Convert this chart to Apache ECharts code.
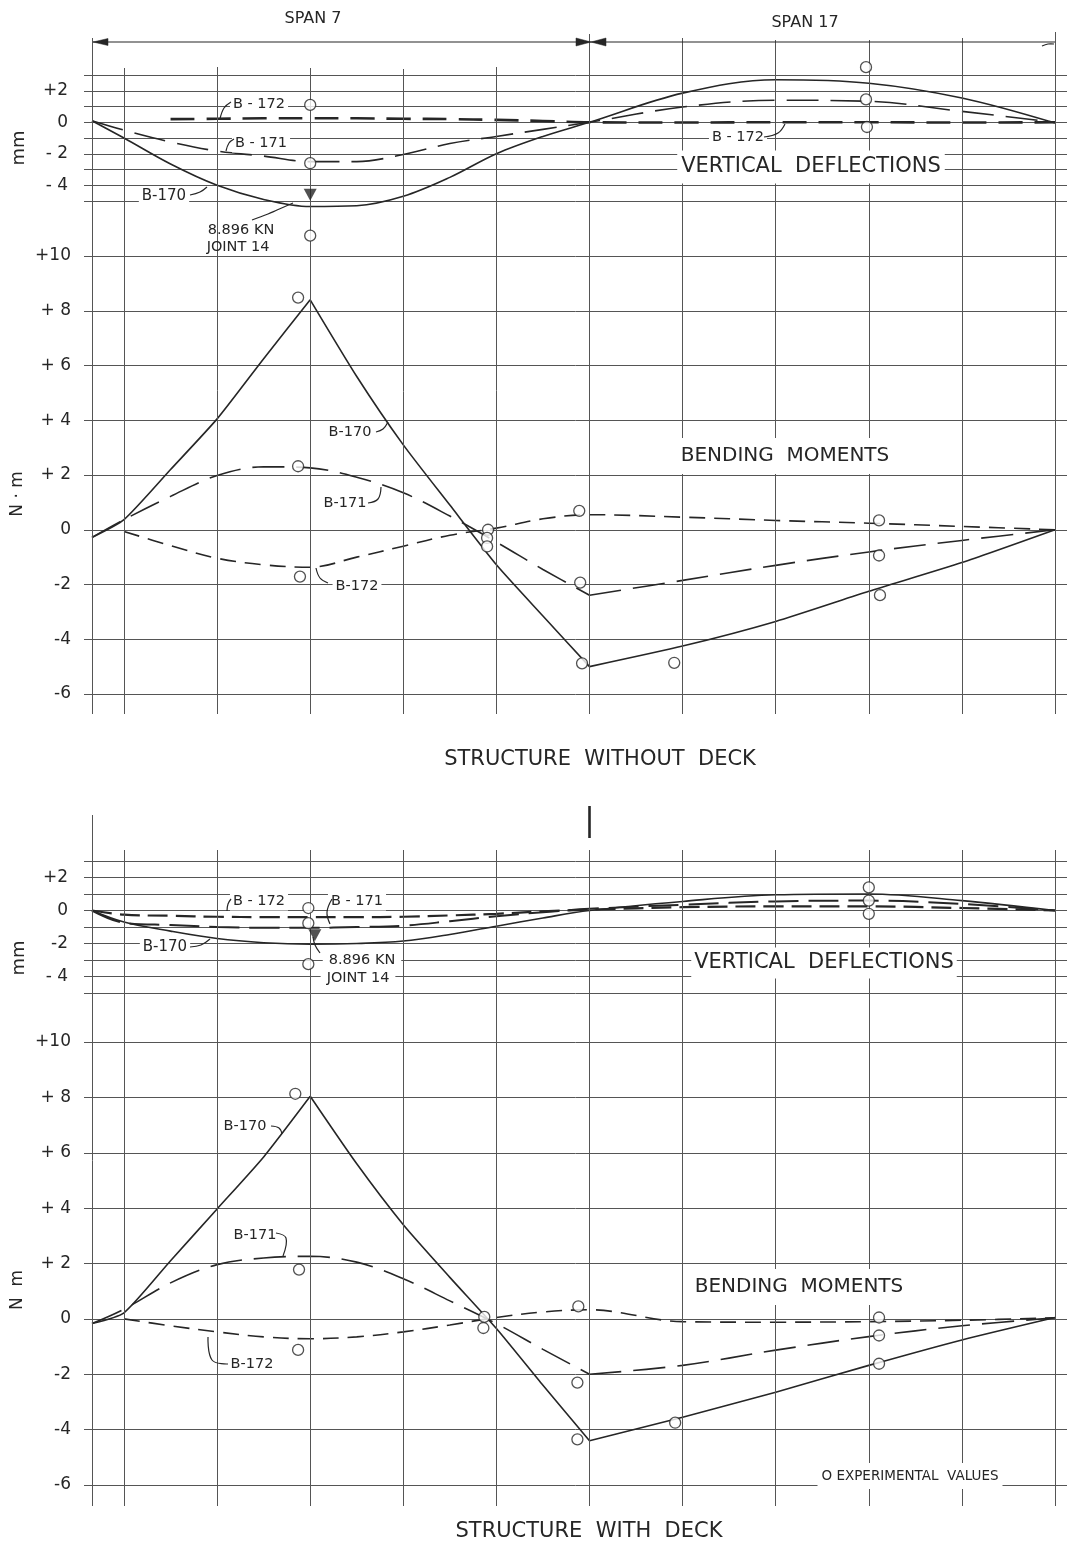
<!DOCTYPE html>
<html><head><meta charset="utf-8">
<script src="https://cdn.jsdelivr.net/npm/echarts@6/dist/echarts.min.js"></script>
<style>html,body{margin:0;padding:0;background:#fff}#c{width:1073px;height:1548px}</style>
</head><body><div id="c"></div>
<script>
// ---------------- DATA ----------------
// x stations in joint spacings (0 = first interior joint, 5 = middle support, 10 = right end)
const stations = [-0.344, 0, 0.5, 1, 1.5, 2, 2.5, 3, 3.5, 4, 4.5, 5, 6, 7, 8, 9, 10];
const jointLines = [-0.344, 0, 1, 2, 3, 4, 5, 6, 7, 8, 9, 10];

// Structure without deck – vertical deflections (mm)
const topDefB170 = [0.1, -1.0, -2.65, -4.0, -4.9, -5.35, -5.3, -4.7, -3.5, -2.0, -0.9, 0, 1.85, 2.7, 2.48, 1.54, -0.05];
const topDefB171 = [0.1, -0.5, -1.25, -1.83, -2.15, -2.5, -2.5, -2.05, -1.35, -0.9, -0.45, 0, 0.97, 1.4, 1.33, 0.69, 0];
const topDefB172 = [null, null, 0.2, 0.22, 0.25, 0.25, 0.25, 0.22, 0.2, 0.15, 0.08, 0, -0.02, 0, 0, -0.02, 0];
const topDefExp = [[2, 1.1], [2, -2.6], [2, -7.2], [7.97, 3.5], [7.97, 1.45], [7.98, -0.3]];
const topLoad = [[2, -4.6]];
// Structure without deck – bending moments (N·m)
const topMomB170 = [-0.28, 0.37, 2.2, 4.05, 6.25, 8.4, 5.6, 3.1, 0.9, -1.28, -3.15, -5.0, -4.25, -3.35, -2.25, -1.2, 0];
const topMomB171 = [-0.28, 0.37, 1.22, 1.98, 2.3, 2.26, 1.92, 1.35, 0.5, -0.45, -1.45, -2.39, -1.85, -1.3, -0.81, -0.39, 0];
const topMomB172 = [null, -0.06, -0.58, -1.04, -1.28, -1.37, -1.0, -0.6, -0.2, 0.06, 0.4, 0.55, 0.46, 0.34, 0.24, 0.12, 0];
const topMomExp = [[1.87, 8.48], [1.87, 2.32], [1.89, -1.71], [3.91, 0.0], [3.9, -0.3], [3.9, -0.61],
  [4.89, 0.69], [4.9, -1.93], [4.92, -4.88], [5.91, -4.86], [8.11, 0.34], [8.11, -0.94], [8.12, -2.39]];

// Structure with deck – vertical deflections (mm)
const botDefB170 = [0, -0.7, -1.25, -1.7, -1.95, -2.04, -2.0, -1.85, -1.45, -0.95, -0.45, 0, 0.55, 0.95, 1.0, 0.6, 0];
const botDefB171 = [0, -0.75, -0.88, -1.0, -1.05, -1.05, -1.0, -0.92, -0.65, -0.35, -0.1, 0.1, 0.35, 0.55, 0.6, 0.4, 0];
const botDefB172 = [0, -0.25, -0.32, -0.38, -0.4, -0.4, -0.4, -0.38, -0.3, -0.2, -0.05, 0.05, 0.2, 0.25, 0.25, 0.15, 0];
const botDefExp = [[1.98, 0.15], [1.98, -0.77], [1.98, -3.25], [8, 1.4], [8, 0.6], [8, -0.2]];
const botLoad = [[2.05, -1.5]];
// Structure with deck – bending moments (N·m)
const botMomB170 = [-0.17, 0.22, 2.1, 3.97, 5.85, 8.04, 5.6, 3.4, 1.5, -0.35, -2.4, -4.4, -3.55, -2.65, -1.68, -0.76, 0.05];
const botMomB171 = [-0.17, 0.35, 1.3, 1.96, 2.2, 2.26, 2.05, 1.45, 0.65, -0.17, -1.1, -2.0, -1.68, -1.13, -0.64, -0.25, 0.04];
const botMomB172 = [null, 0, -0.25, -0.47, -0.65, -0.72, -0.65, -0.47, -0.22, 0.05, 0.25, 0.33, -0.1, -0.12, -0.1, -0.05, 0.04];
const botMomExp = [[1.84, 8.13], [1.88, 1.78], [1.87, -1.12], [3.87, 0.07], [3.86, -0.33], [4.88, 0.45],
  [4.87, -2.3], [4.87, -4.35], [5.92, -3.75], [8.11, 0.05], [8.11, -0.6], [8.11, -1.62]];

// tick labels
const defTickValues = [2, 0, -2, -4];
const topDefTickLabels = ['+2', '0', '- 2', '- 4'];
const botDefTickLabels = ['+2', '0', '-2', '- 4'];
const momTickValues = [10, 8, 6, 4, 2, 0, -2, -4, -6];
const momTickLabels = ['+10', '+ 8', '+ 6', '+ 4', '+ 2', '0', '-2', '-4', '-6'];

// ---------------- LAYOUT / STYLE ----------------
const FONT = 'DejaVu Sans';
const INK = '#262626';
const GRIDC = '#555';
const GL = 84, GW = 983, J0PX = 124, JPX = 93.1;
const XMIN = (GL - J0PX) / JPX, XMAX = (GL + GW - J0PX) / JPX;
const topVTops = [38, 68, 67, 68, 69, 67, 34, 38, 40, 40, 38, 32], topVBottom = 714;
const botVTops = [815, 850, 850, 850, 850, 850, 850, 850, 850, 850, 850, 850], botVBottom = 1506;

const chart = echarts.init(document.getElementById('c'));

const gridDefs = [
  {top: 75, height: 126}, {top: 256, height: 438}, {top: 861, height: 132}, {top: 1042, height: 443}, {top: 0, height: 1548}
];
const grid = gridDefs.map(g => ({left: GL, width: GW, top: g.top, height: g.height, containLabel: false, outerBoundsMode: 'none'}));
const xAxis = gridDefs.map((g, i) => ({gridIndex: i, type: 'value', min: XMIN, max: XMAX, show: false}));

function fmt(values, labels) {
  return v => { const i = values.findIndex(t => Math.abs(t - v) < 1e-6); return i >= 0 ? labels[i] : ''; };
}
function yAx(i, min, max, interval, formatter, margin) {
  return {gridIndex: i, type: 'value', min, max, interval,
    axisLine: {show: false}, axisTick: {show: false},
    axisLabel: {formatter, margin, fontSize: 17, color: INK, fontFamily: FONT},
    splitLine: {show: true, lineStyle: {color: GRIDC, width: 1}}};
}
const yAxis = [
  yAx(0, -5, 3, 1, fmt(defTickValues, topDefTickLabels), 16),
  yAx(1, -6, 10, 2, fmt(momTickValues, momTickLabels), 13),
  yAx(2, -5, 3, 1, fmt(defTickValues, botDefTickLabels), 16),
  yAx(3, -6, 10, 2, fmt(momTickValues, momTickLabels), 13),
  {gridIndex: 4, type: 'value', min: 0, max: 1548, inverse: true, show: false}
];

const SOLID = {type: 'solid', width: 1.6};
const LONG = {type: [32, 12], width: 1.6};
const SHORT = {type: [16, 9], width: 1.6};
const HEAVY = {type: [24, 12], width: 2.6};
const LONGH = {type: [30, 10], width: 2.0};
const SHORTH = {type: [20, 8], width: 2.2};

function curve(gi, ys, ls, breaks, smooth) {
  const cuts = [0, ...breaks, stations.length - 1];
  const out = [];
  for (let k = 0; k < cuts.length - 1; k++) {
    const data = [];
    for (let i = cuts[k]; i <= cuts[k + 1]; i++) if (ys[i] !== null) data.push([stations[i], ys[i]]);
    out.push({type: 'line', xAxisIndex: gi, yAxisIndex: gi, data, showSymbol: false, symbol: 'none',
      smooth, clip: false, silent: true, z: 3,
      lineStyle: Object.assign({color: INK, cap: 'butt'}, ls)});
  }
  return out;
}
function exp(gi, data) {
  return {type: 'scatter', xAxisIndex: gi, yAxisIndex: gi, data, symbol: 'circle', symbolSize: 11,
    clip: false, silent: true, z: 5, itemStyle: {color: '#fff', borderColor: INK, borderWidth: 1.3}};
}
function load(gi, data) {
  return {type: 'scatter', xAxisIndex: gi, yAxisIndex: gi, data, symbol: 'triangle', symbolRotate: 180,
    symbolSize: [13, 12], clip: false, silent: true, z: 6, itemStyle: {color: INK}};
}
function vlines(tops, bottom) {
  return jointLines.map((x, i) => [{coord: [x, tops[i]]}, {coord: [x, bottom]}]);
}

const series = [
  ...curve(0, topDefB170, SOLID, [], 0.35),
  ...curve(0, topDefB171, LONG, [], 0.35),
  ...curve(0, topDefB172, HEAVY, [], 0.35),
  exp(0, topDefExp), load(0, topLoad),
  ...curve(1, topMomB170, SOLID, [5, 11], 0.2),
  ...curve(1, topMomB171, LONG, [11], 0.35),
  ...curve(1, topMomB172, SHORT, [], 0.35),
  exp(1, topMomExp),
  ...curve(2, botDefB170, SOLID, [], 0.35),
  ...curve(2, botDefB171, LONGH, [], 0.35),
  ...curve(2, botDefB172, SHORTH, [], 0.35),
  exp(2, botDefExp), load(2, botLoad),
  ...curve(3, botMomB170, SOLID, [5, 11], 0.2),
  ...curve(3, botMomB171, LONG, [11], 0.35),
  ...curve(3, botMomB172, SHORT, [], 0.35),
  exp(3, botMomExp),
  {type: 'line', xAxisIndex: 4, yAxisIndex: 4, data: [[0, 0]], symbol: 'none', silent: true, z: 1,
    lineStyle: {opacity: 0},
    markLine: {silent: true, symbol: ['none', 'none'], label: {show: false}, animation: false,
      lineStyle: {color: GRIDC, width: 1, type: 'solid'},
      data: [...vlines(topVTops, topVBottom), ...vlines(botVTops, botVBottom),
        [{coord: [5, 806], lineStyle: {color: INK, width: 2.6, type: 'solid'}}, {coord: [5, 838]}]]}}
];

// ---------------- TEXT / ANNOTATIONS ----------------
function txt(text, x, y, size, opts = {}) {
  const st = {text, fontSize: size, fontFamily: FONT, fill: INK,
    textAlign: 'center', textVerticalAlign: 'middle', align: 'center', verticalAlign: 'middle'};
  if (opts.bg) { st.backgroundColor = '#fff'; st.padding = opts.pad || [2, 3]; }
  return {type: 'text', x, y, z: 100, rotation: opts.rot || 0, silent: true, style: st};
}
function lead(points) {
  return {type: 'polyline', z: 100, silent: true, shape: {points, smooth: 0.4},
    style: {stroke: INK, lineWidth: 1.2, fill: null}};
}
function poly(points) {
  return {type: 'polygon', z: 100, silent: true, shape: {points}, style: {fill: INK, stroke: INK, lineWidth: 0.5}};
}
const R90 = Math.PI / 2;
const graphic = [
  // span header
  txt('SPAN 7', 313, 19, 16), txt('SPAN 17', 805, 23, 16),
  {type: 'line', z: 100, silent: true, shape: {x1: 93, y1: 42, x2: 1055, y2: 42}, style: {stroke: INK, lineWidth: 1.1}},
  poly([[93, 42], [108, 38.5], [108, 45.5]]),
  poly([[591, 42], [576, 38], [576, 46]]), poly([[591, 42], [606, 38], [606, 46]]),
  lead([[1042, 46], [1048, 44], [1054, 44]]),
  // top panel axis names
  txt('mm', 19, 148, 18, {rot: R90}), txt('N · m', 18, 494, 17, {rot: R90}),
  // top deflection annotations
  txt('B - 172', 259, 104, 14.5, {bg: true}), lead([[231, 102], [224, 108], [220, 119]]),
  txt('B - 171', 261, 143, 14.5, {bg: true}), lead([[234, 139], [229, 143], [226, 151]]),
  txt('B-170', 164, 196, 15, {bg: true}), lead([[190, 195], [200, 192], [207, 187]]),
  txt('8.896 KN', 241, 230, 14.5), txt('JOINT 14', 238, 247, 14.5),
  lead([[252, 220], [268, 214], [277, 210], [293, 203]]),
  txt('B - 172', 738, 137, 14.5, {bg: true}), lead([[764, 137], [778, 133], [785, 124]]),
  txt('VERTICAL  DEFLECTIONS', 811, 167, 21, {bg: true, pad: [6, 4]}),
  // top moment annotations
  txt('B-170', 350, 432, 14.5, {bg: true}), lead([[376, 432], [383, 429], [388, 422]]),
  txt('B-171', 345, 503, 14.5, {bg: true}), lead([[368, 503], [378, 499], [381, 487]]),
  txt('B-172', 357, 586, 14.5, {bg: true}), lead([[328, 583], [320, 578], [316, 568]]),
  txt('BENDING  MOMENTS', 785, 456, 20, {bg: true, pad: [8, 6]}),
  txt('STRUCTURE  WITHOUT  DECK', 600, 760, 21),
  // bottom panel
  txt('mm', 19, 958, 18, {rot: R90}), txt('N  m', 18, 1290, 17, {rot: R90}),
  txt('B - 172', 259, 901, 14.5, {bg: true}), lead([[231, 899], [228, 904], [227, 911]]),
  txt('B - 171', 357, 901, 14.5, {bg: true}), lead([[332, 899], [327, 912], [330, 924]]),
  txt('B-170', 165, 947, 15, {bg: true}), lead([[190, 947], [201, 945], [210, 939]]),
  txt('8.896 KN', 362, 960, 14.5, {bg: true, pad: [3, 6]}), txt('JOINT 14', 358, 978, 14.5, {bg: true, pad: [3, 6]}),
  lead([[320, 953], [315, 945], [313, 937]]),
  txt('VERTICAL  DEFLECTIONS', 824, 963, 21, {bg: true, pad: [5, 3]}),
  txt('B-170', 245, 1126, 14.5, {bg: true}), lead([[271, 1126], [279, 1128], [282, 1134]]),
  txt('B-171', 255, 1235, 14.5, {bg: true}), lead([[276, 1233], [286, 1238], [283, 1256]]),
  txt('B-172', 252, 1364, 14.5, {bg: true}), lead([[228, 1364], [212, 1360], [208, 1337]]),
  txt('BENDING  MOMENTS', 799, 1287, 20, {bg: true, pad: [8, 6]}),
  txt('O EXPERIMENTAL  VALUES', 910, 1476, 13.5, {bg: true, pad: [6, 4]}),
  txt('STRUCTURE  WITH  DECK', 589, 1532, 21)
];

chart.setOption({
  animation: false,
  backgroundColor: '#fff',
  grid, xAxis, yAxis, series, graphic
});
</script>
</body></html>
